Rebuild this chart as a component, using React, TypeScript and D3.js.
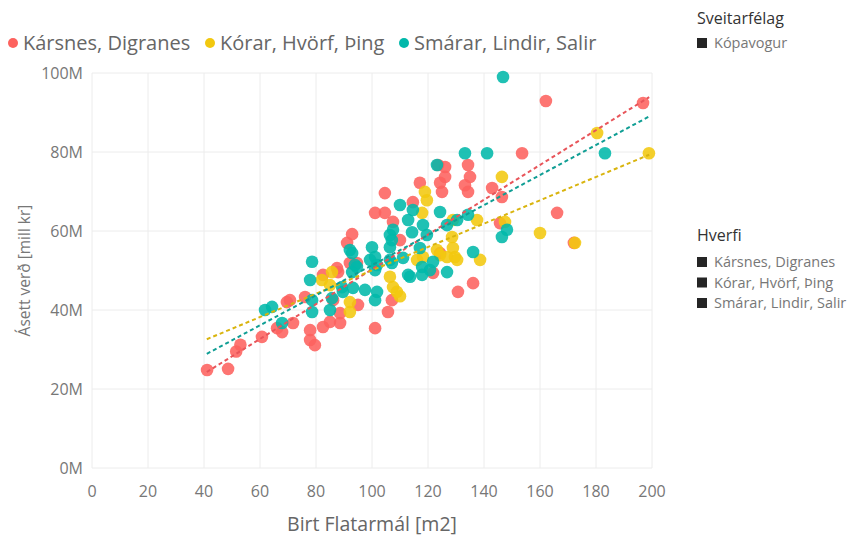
import React from "react";
import * as d3 from "d3";

const seriesNames = ["Kársnes, Digranes", "Kórar, Hvörf, Þing", "Smárar, Lindir, Salir"];
const seriesColors = ["#FD625E", "#F2C80F", "#01B8AA"];
const lineColors = ["#E8555A", "#D9B40E", "#0F9E94"];

const karsnes: [number, number][] = [
  [41.1, 24.8], [48.6, 25.1], [51.5, 29.5], [53, 31.2], [60.7, 33.2], [66.1, 35.4], [67.9, 34.4],
  [69.6, 42], [71.8, 36.7], [76.1, 43.3], [77.9, 34.9], [77.9, 32.4], [79.6, 31.1], [82.5, 35.7],
  [85, 37], [88.6, 36.7], [88.6, 39.2], [86.1, 42.5], [87.9, 49.6], [82.5, 48.9], [95, 41.3],
  [101.1, 35.4], [105.7, 39.5], [107.1, 42.5], [91.1, 57], [92.9, 59.2], [87.5, 50.6], [92.1, 51.9],
  [94.6, 51.9], [70.7, 42.5], [104.6, 69.6], [117.1, 72.2], [114.6, 67.3], [104.6, 64.6],
  [101.1, 64.6], [107.5, 62.3], [110, 57.7], [123.6, 76.7], [126.1, 76.2], [126.1, 73.7],
  [124.3, 72.2], [125, 69.9], [134.3, 76.7], [135, 73.7], [133.2, 71.6], [134.3, 69.9],
  [142.9, 70.9], [146.4, 68.6], [145.7, 62], [124.3, 54.4], [121.8, 49.4], [130.7, 44.6],
  [136.1, 46.8], [162.1, 92.9], [196.8, 92.4], [153.6, 79.7], [166.1, 64.6], [172.1, 57],
];

const korar: [number, number][] = [
  [82.1, 47.6], [85.7, 49.6], [85, 46.3], [92.1, 42], [92.1, 39.5], [106.4, 48.4], [107.5, 45.8],
  [108.9, 44.6], [110, 43.5], [118.9, 69.9], [119.6, 67.8], [117.9, 64.6], [146.4, 73.7],
  [137.5, 62.8], [128.6, 58.5], [128.9, 55.7], [129.6, 53.4], [126.8, 53.4], [138.6, 52.7],
  [116.1, 52.7], [118.2, 53.4], [123.2, 55.2], [147.5, 62.3], [180.4, 84.8], [198.9, 79.7],
  [160, 59.5], [172.5, 57], [130.4, 52.7], [128.9, 62.8], [124.3, 53.9],
];

const smarar: [number, number][] = [
  [61.8, 40], [64.3, 40.8], [67.9, 36.7], [78.6, 52.2], [77.9, 47.6], [78.6, 42.5], [78.6, 39.5],
  [85.7, 43], [85, 40], [89.6, 44.6], [93.2, 45.6], [94.6, 50.9], [92.9, 49.6], [97.5, 45.1],
  [101.8, 44.6], [101.1, 42.5], [100, 55.9], [101.1, 53.4], [106.4, 59], [106.4, 55.9],
  [92.1, 55.2], [101.1, 50.1], [92.9, 54.4], [123.2, 76.7], [110, 66.6], [114.6, 65.3],
  [112.9, 62.8], [118.2, 61.5], [114.3, 59.7], [119.6, 59], [107.5, 60.3], [107.1, 57.7],
  [124.3, 64.8], [130.4, 62.8], [134.3, 64.1], [126.8, 61.5], [117.1, 55.7], [111.1, 53.2],
  [107.1, 51.9], [117.9, 50.9], [121.8, 52.2], [120.7, 50.1], [112.9, 48.9], [117.9, 48.9],
  [126.8, 49.6], [136.1, 54.7], [146.4, 58.5], [148.2, 60.3], [146.8, 99], [133.2, 79.7],
  [141.1, 79.7], [183.2, 79.7], [99.3, 52.7], [106.4, 52.7], [101.8, 51.4], [93.9, 51.4],
  [113.6, 48.4], [89.3, 45.8],
];

const trendX = [41, 199];
const trendKarsnes = [24.3, 93.9];
const trendKorar = [32.6, 79.3];
const trendSmarar = [28.9, 89];

const xTicks = [0, 20, 40, 60, 80, 100, 120, 140, 160, 180, 200];
const yTicks = [0, 20, 40, 60, 80, 100];

const xTitle = "Birt Flatarmál [m2]";
const yTitle = "Ásett verð [mill kr]";
const legend1Title = "Sveitarfélag";
const legend1Items = ["Kópavogur"];
const legend2Title = "Hverfi";

const FONT = "'Segoe UI', 'Open Sans', sans-serif";

export default function App() {
  const W = 850, H = 538;
  const x = d3.scaleLinear().domain([0, 200]).range([92, 652]);
  const y = d3.scaleLinear().domain([0, 100]).range([468, 73]);
  const series = [karsnes, korar, smarar];
  const trends = [trendKarsnes, trendKorar, trendSmarar];
  const line = d3.line<number>().x((_, i) => x(trendX[i])).y((v) => y(v));

  const legendX = [13, 210, 404];

  return (
    <svg width={W} height={H} style={{ position: "absolute", left: 0, top: 0, background: "#fff" }} fontFamily={FONT}>
      <rect width={W} height={H} fill="#fff" />
      {xTicks.map((t) => (
        <line key={"gx" + t} x1={x(t)} x2={x(t)} y1={y(100)} y2={y(0)} stroke="#ececec" strokeWidth={1} />
      ))}
      {yTicks.map((t) => (
        <line key={"gy" + t} x1={x(0)} x2={x(200)} y1={y(t)} y2={y(t)} stroke="#ececec" strokeWidth={1} />
      ))}
      {xTicks.map((t) => (
        <text key={"tx" + t} x={x(t)} y={497} textAnchor="middle" fontSize={16} fill="#777">{t}</text>
      ))}
      {yTicks.map((t) => (
        <text key={"ty" + t} x={83} y={y(t) + 6} textAnchor="end" fontSize={16} fill="#777">{t + "M"}</text>
      ))}
      <text x={x(100)} y={531} textAnchor="middle" fontSize={19.5} fill="#666">{xTitle}</text>
      <text transform={`translate(30, ${y(50)}) rotate(-90)`} textAnchor="middle" fontSize={15.5} fill="#777">{yTitle}</text>
      {series.map((s, si) => (
        <g key={"s" + si}>
          {s.map((d, i) => (
            <circle key={i} cx={x(d[0])} cy={y(d[1])} r={6.3} fill={seriesColors[si]} fillOpacity={0.88} />
          ))}
        </g>
      ))}
      {trends.map((t, si) => (
        <path key={"t" + si} d={line(t) || ""} fill="none" stroke={lineColors[si]} strokeWidth={2} strokeDasharray="4,3" />
      ))}
      {seriesNames.map((n, i) => (
        <g key={"l" + i}>
          <circle cx={legendX[i]} cy={43} r={5} fill={seriesColors[i]} />
          <text x={legendX[i] + 10} y={50} fontSize={20} fill="#666">{n}</text>
        </g>
      ))}
      <text x={697} y={24} fontSize={16} fill="#333">{legend1Title}</text>
      {legend1Items.map((n, i) => (
        <g key={"r1" + i}>
          <rect x={697} y={38 + i * 20} width={10} height={10} fill="#252525" />
          <text x={714} y={48 + i * 20} fontSize={14.5} fill="#777">{n}</text>
        </g>
      ))}
      <text x={697} y={241} fontSize={16} fill="#333">{legend2Title}</text>
      {seriesNames.map((n, i) => (
        <g key={"r2" + i}>
          <rect x={697} y={257 + i * 20.5} width={10} height={10} fill="#252525" />
          <text x={714} y={267 + i * 20.5} fontSize={14.5} fill="#777">{n}</text>
        </g>
      ))}
    </svg>
  );
}
